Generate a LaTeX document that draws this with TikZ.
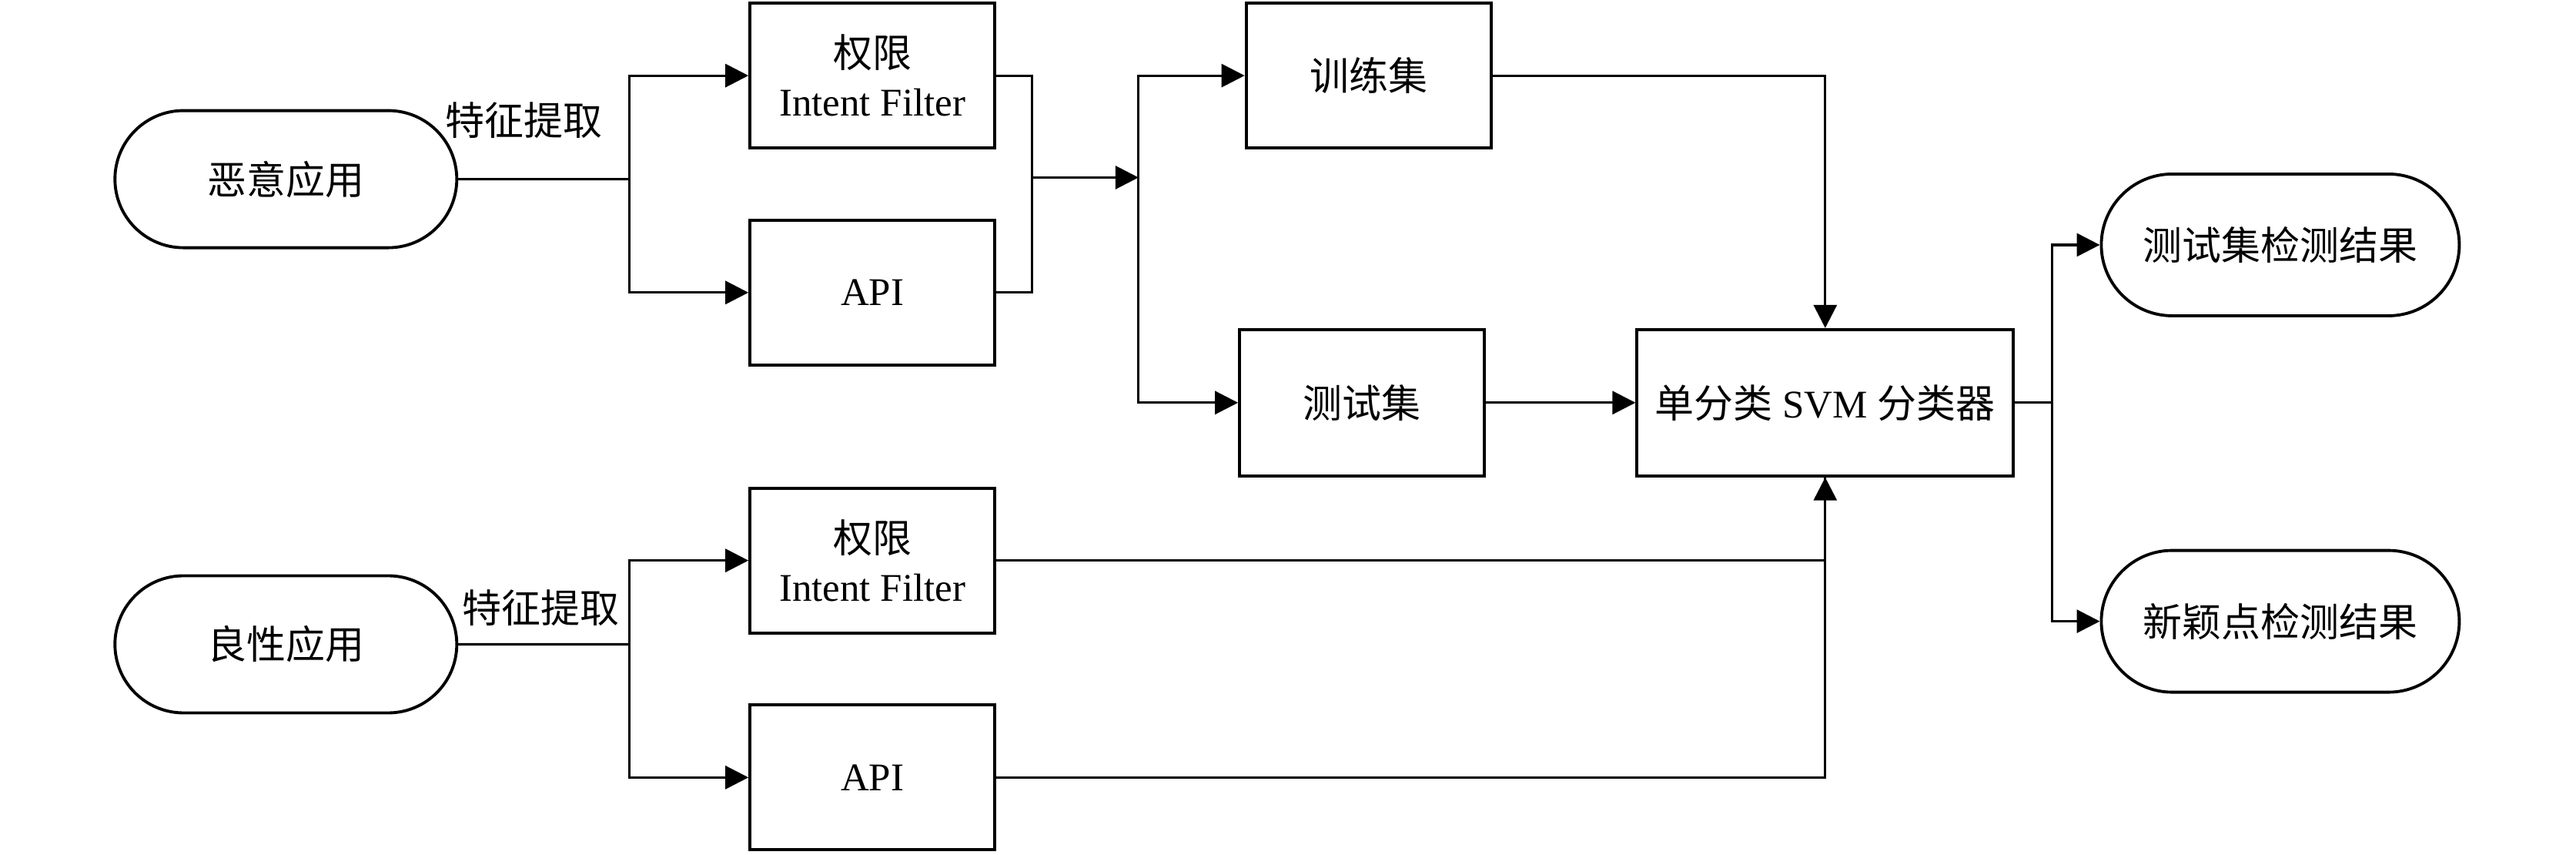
\documentclass[tikz,border=0pt]{standalone}
\usepackage{fontspec}
\setmainfont{Liberation Serif}
\newfontfamily\cjk{Noto Sans CJK SC}
\usetikzlibrary{arrows.meta,shapes.misc}

\begin{document}
\begin{tikzpicture}[x=0.2134mm, y=-0.2134mm,
                        font=\fontsize{14.5}{18}\selectfont,
                        box/.style={draw, line width=1.1pt, minimum width=3.18cm, minimum height=1.88cm, align=center, inner sep=0pt},
                        pill/.style={draw, line width=1.1pt, rounded rectangle, minimum height=1.78cm, inner sep=0pt},
                        arr/.style={-{Triangle[length=3mm, width=3mm]}},
                        lbl/.style={inner sep=1pt}]
                        \useasboundingbox (0,0) rectangle (1568,520);
                        \tikzset{every path/.style={line width=0.9pt}}

                        %\draw (0,0) rectangle (1568,520);

                        \node [pill, minimum width=4.44cm] (mal) at (174,109) {\cjk 恶意应用};
                        \node [pill, minimum width=4.44cm] (ben) at (174,392) {\cjk 良性应用};

                        \node [box] (perm1) at (531,46) {{\cjk 权限}\\Intent Filter};
                        \node [box] (api1) at (531,178) {API};
                        \node [box] (perm2) at (531,341) {{\cjk 权限}\\Intent Filter};
                        \node [box] (api2) at (531,473) {API};

                        \node [box] (train) at (833,46) {\cjk 训练集};
                        \node [box, minimum height=1.9cm] (test) at (829,245) {\cjk 测试集};
                        \node [box, minimum width=4.89cm, minimum height=1.9cm] (svm) at (1111,245) {{\cjk 单分类} SVM {\cjk 分类器}};

                        \node [pill, minimum width=4.65cm, minimum height=1.84cm] (resT) at (1388,149) {\cjk 测试集检测结果};
                        \node [pill, minimum width=4.65cm, minimum height=1.84cm] (resN) at (1388,378) {\cjk 新颖点检测结果};

                        \node [lbl] (fe1) at (319,73) {\cjk 特征提取};
                        \node [lbl] (fe2) at (329,370) {\cjk 特征提取};

                        \coordinate (j1) at (383,109);
                        \coordinate (j2) at (383,392);
                        \coordinate (m1) at (628,108);
                        \coordinate (s1) at (693,108);
                        \coordinate (o1) at (1249,245);

                        % feature extraction
                        \draw (mal) -- (j1);
                        \draw [arr] (j1) |- (perm1);
                        \draw [arr] (j1) |- (api1);
                        \draw (ben) -- (j2);
                        \draw [arr] (j2) |- (perm2);
                        \draw [arr] (j2) |- (api2);

                        % split into training and test sets
                        \draw (perm1) -| (m1);
                        \draw (api1) -| (m1);
                        \draw [arr] (m1) -- (s1);
                        \draw [arr] (s1) |- (train);
                        \draw [arr] (s1) |- (test);

                        \draw [arr] (test) -- (svm);
                        \draw [arr] (train) -| (svm);
                        \draw (perm2) -| (svm);
                        \draw [arr] (api2) -| (svm);

                        \draw (svm) -- (o1);
                        \draw [arr] (o1) |- (resT);
                        \draw [arr] (o1) |- (resN);
                    \end{tikzpicture}
\end{document}
